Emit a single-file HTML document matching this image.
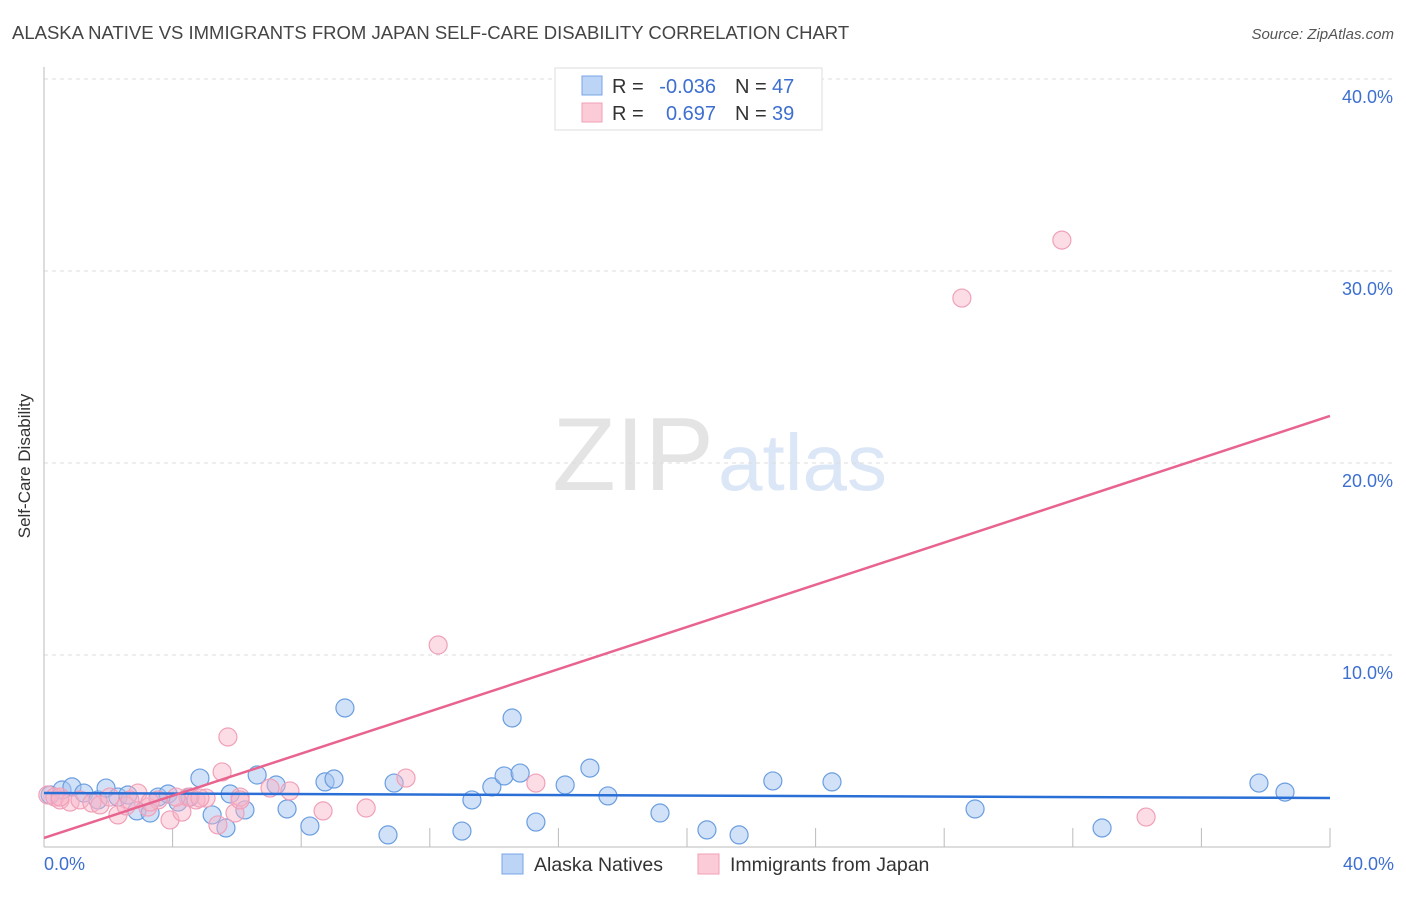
<!DOCTYPE html>
<html><head><meta charset="utf-8"><style>
body{margin:0;background:#fff;font-family:"Liberation Sans",sans-serif;}
svg text{font-family:"Liberation Sans",sans-serif;}
</style></head><body>
<svg width="1406" height="892" xmlns="http://www.w3.org/2000/svg">
<text x="12" y="39" font-size="18.5" fill="#444">ALASKA NATIVE VS IMMIGRANTS FROM JAPAN SELF-CARE DISABILITY CORRELATION CHART</text>
<text x="1394" y="39" font-size="15" fill="#555" font-style="italic" text-anchor="end">Source: ZipAtlas.com</text>
<text x="714" y="490" font-size="104" fill="#e4e4e4" font-family="Liberation Serif" text-anchor="end">ZIP</text>
<text x="718" y="490" font-size="80" fill="#dbe6f6">atlas</text>
<g id="grid"></g>
<line x1="44" y1="67" x2="44" y2="847" stroke="#bbb"/>
<line x1="44" y1="847" x2="1330" y2="847" stroke="#bbb"/>
<text x="20" y="456" font-size="17" fill="#333" transform="rotate(-90 30 456)" text-anchor="middle">Self-Care Disability</text>
<text x="44" y="870" font-size="18" fill="#3d6fd0">0.0%</text>
<text x="1394" y="870" font-size="18" fill="#3d6fd0" text-anchor="end">40.0%</text>
<g id="pts"></g>
<g id="lines"></g>
<g>
<rect x="555" y="68" width="267" height="62" fill="#fff" stroke="#ddd"/>
<rect x="582" y="76" width="20" height="19" fill="#bcd4f6" stroke="#7aa6e6"/>
<rect x="582" y="103" width="20" height="19" fill="#fbcbd8" stroke="#f0a0b8"/>
<text x="612" y="93" font-size="20" fill="#333">R =</text>
<text x="716" y="93" font-size="20" fill="#3d6fd0" text-anchor="end">-0.036</text>
<text x="735" y="93" font-size="20" fill="#333">N =</text>
<text x="772" y="93" font-size="20" fill="#3d6fd0">47</text>
<text x="612" y="120" font-size="20" fill="#333">R =</text>
<text x="716" y="120" font-size="20" fill="#3d6fd0" text-anchor="end">0.697</text>
<text x="735" y="120" font-size="20" fill="#333">N =</text>
<text x="772" y="120" font-size="20" fill="#3d6fd0">39</text>
</g>
<g>
<rect x="502" y="854" width="21" height="20" fill="#bcd4f6" stroke="#7aa6e6"/>
<text x="534" y="871" font-size="19.5" fill="#333">Alaska Natives</text>
<rect x="698" y="854" width="21" height="20" fill="#fbcbd8" stroke="#f0a0b8"/>
<text x="730" y="871" font-size="19.5" fill="#333">Immigrants from Japan</text>
</g>
</svg>
<script>
const blueX=[0.19,0.56,0.87,1.24,1.68,1.93,2.30,2.61,2.89,3.30,3.55,3.86,4.17,4.54,4.85,5.23,5.66,5.79,6.25,6.63,7.22,7.56,8.27,8.74,9.02,9.36,10.70,10.89,13.00,13.31,13.93,14.31,14.56,14.81,15.30,16.21,16.98,17.54,19.16,20.62,21.62,22.67,24.51,28.96,32.91,37.79,38.60];
const blueY=[2.71,2.97,3.13,2.81,2.45,3.07,2.60,2.71,1.88,1.77,2.60,2.76,2.34,2.60,3.59,1.67,0.99,2.76,1.93,3.75,3.23,1.98,1.09,3.39,3.54,7.24,0.63,3.33,0.83,2.45,3.13,3.70,6.72,3.85,1.30,3.23,4.11,2.66,1.77,0.89,0.63,3.44,3.39,1.98,0.99,3.33,2.86];
const pinkX=[0.12,0.34,0.50,0.81,1.12,1.49,1.74,2.05,2.30,2.55,2.92,3.23,3.55,3.92,4.29,4.48,4.73,5.04,5.41,5.54,5.72,5.94,6.10,7.03,7.65,8.68,10.02,11.26,12.26,15.30,34.28,28.55,31.66,4.11,4.85,0.50,2.67,3.30,6.10];
const pinkY=[2.71,2.60,2.45,2.34,2.45,2.29,2.19,2.60,1.67,2.14,2.81,2.08,2.45,1.41,1.82,2.60,2.45,2.55,1.15,3.91,5.73,1.77,2.60,3.07,2.92,1.88,2.03,3.59,10.52,3.33,1.56,28.59,31.61,2.60,2.55,2.60,2.45,2.34,2.45];
const blueTrend=[2.81,2.55];
const pinkTrend=[0.47,22.45];
const yTicks=[10,20,30,40];
const xTicks=[4,8,12,16,20,24,28,32,36,40];
const NS="http://www.w3.org/2000/svg";
const sx=v=>44+v*32.15, sy=v=>847-v*19.2;
function mk(t,a,p){const e=document.createElementNS(NS,t);for(const k in a)e.setAttribute(k,a[k]);p.appendChild(e);return e;}
const grid=document.getElementById('grid');
yTicks.forEach(t=>{
 const l=mk('line',{x1:44,x2:1394,y1:sy(t),y2:sy(t),stroke:'#ddd','stroke-dasharray':'4,4'},grid);
 
 
 const tx=mk('text',{x:1393,y:sy(t)+24,'font-size':18,fill:'#3d6fd0','text-anchor':'end'},grid);
 tx.textContent=t.toFixed(1)+'%';
 
 
});
xTicks.forEach(t=>{
 const l=mk('line',{x1:sx(t),x2:sx(t),y1:828,y2:847,stroke:'#bbb'},grid);
 
 
});
const pts=document.getElementById('pts');
blueX.forEach((x,i)=>{
 const c=mk('circle',{cx:sx(x),cy:sy(blueY[i]),r:9,fill:'rgba(164,196,240,0.5)',stroke:'#6a9ee0','stroke-width':1.2},pts);
 
 
});
pinkX.forEach((x,i)=>{
 const c=mk('circle',{cx:sx(x),cy:sy(pinkY[i]),r:9,fill:'rgba(248,180,200,0.45)',stroke:'#f0a0b8','stroke-width':1.2},pts);
 
 
});
const lines=document.getElementById('lines');
const bl=mk('line',{x1:sx(0),x2:sx(40),y1:sy(blueTrend[0]),y2:sy(blueTrend[1]),stroke:'#2a6fd6','stroke-width':2.5},lines);


const pl=mk('line',{x1:sx(0),x2:sx(40),y1:sy(pinkTrend[0]),y2:sy(pinkTrend[1]),stroke:'#e8648e','stroke-width':2.5},lines);


</script>
</body></html>
